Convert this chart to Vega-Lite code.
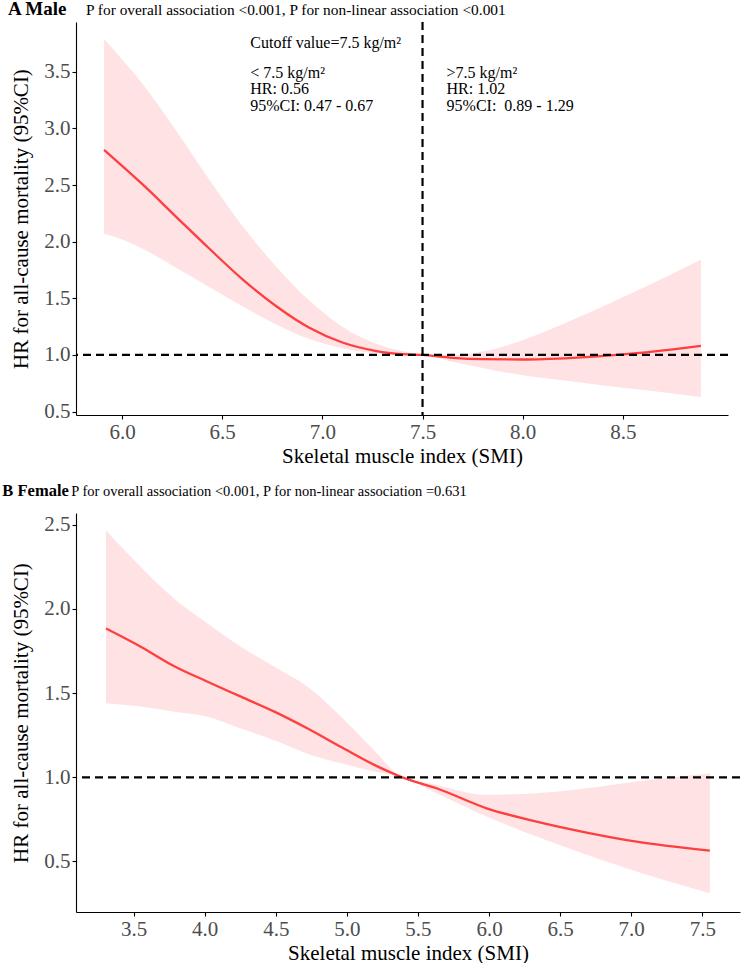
{
  "$schema": "https://vega.github.io/schema/vega-lite/v6.json",
  "background": "white",
  "padding": {"left": 2, "top": 0, "right": 0, "bottom": 0},
  "spacing": 16,
  "config": {
    "font": "Liberation Serif",
    "view": {"stroke": null},
    "axis": {"domainColor": "black", "domainWidth": 1.1, "tickColor": "black", "tickWidth": 1.1, "tickSize": 4, "labelFont": "Liberation Serif", "labelFontSize": 21, "labelColor": "#4D4D4D", "titleFont": "Liberation Serif", "titleFontSize": 21, "titleFontWeight": "normal", "titleColor": "black", "grid": false, "labelPadding": 2},
    "axisY": {"titlePadding": 12},
    "axisX": {"titlePadding": 3},
    "text": {"font": "Liberation Serif"}
  },
  "datasets": {
    "male": [
      {"smi": 5.91, "hr": 2.81, "lo": 2.07, "hi": 3.79},
      {"smi": 6.0, "hr": 2.67, "lo": 2.02, "hi": 3.61},
      {"smi": 6.1, "hr": 2.51, "lo": 1.94, "hi": 3.40},
      {"smi": 6.27, "hr": 2.22, "lo": 1.77, "hi": 2.98},
      {"smi": 6.435, "hr": 1.94, "lo": 1.60, "hi": 2.55},
      {"smi": 6.6, "hr": 1.67, "lo": 1.43, "hi": 2.14},
      {"smi": 6.77, "hr": 1.43, "lo": 1.27, "hi": 1.78},
      {"smi": 6.935, "hr": 1.24, "lo": 1.14, "hi": 1.48},
      {"smi": 7.1, "hr": 1.11, "lo": 1.06, "hi": 1.25},
      {"smi": 7.27, "hr": 1.035, "lo": 1.015, "hi": 1.10},
      {"smi": 7.4, "hr": 1.008, "lo": 1.002, "hi": 1.035},
      {"smi": 7.5, "hr": 1.0, "lo": 1.0, "hi": 1.0},
      {"smi": 7.65, "hr": 0.975, "lo": 0.94, "hi": 1.0},
      {"smi": 7.8, "hr": 0.963, "lo": 0.885, "hi": 1.03},
      {"smi": 8.0, "hr": 0.96, "lo": 0.82, "hi": 1.13},
      {"smi": 8.25, "hr": 0.975, "lo": 0.765, "hi": 1.31},
      {"smi": 8.5, "hr": 1.005, "lo": 0.71, "hi": 1.51},
      {"smi": 8.75, "hr": 1.05, "lo": 0.66, "hi": 1.72},
      {"smi": 8.89, "hr": 1.08, "lo": 0.63, "hi": 1.84}
    ],
    "female": [
      {"smi": 3.306, "hr": 1.884, "lo": 1.44, "hi": 2.468},
      {"smi": 3.55, "hr": 1.776, "lo": 1.42, "hi": 2.25},
      {"smi": 3.786, "hr": 1.66, "lo": 1.39, "hi": 2.06},
      {"smi": 4.02, "hr": 1.568, "lo": 1.36, "hi": 1.914},
      {"smi": 4.255, "hr": 1.479, "lo": 1.29, "hi": 1.776},
      {"smi": 4.49, "hr": 1.39, "lo": 1.22, "hi": 1.657},
      {"smi": 4.724, "hr": 1.29, "lo": 1.14, "hi": 1.538},
      {"smi": 4.96, "hr": 1.18, "lo": 1.083, "hi": 1.36},
      {"smi": 5.193, "hr": 1.074, "lo": 1.034, "hi": 1.16},
      {"smi": 5.39, "hr": 1.0, "lo": 1.0, "hi": 1.0},
      {"smi": 5.631, "hr": 0.935, "lo": 0.905, "hi": 0.955},
      {"smi": 5.983, "hr": 0.816, "lo": 0.767, "hi": 0.896},
      {"smi": 6.334, "hr": 0.737, "lo": 0.648, "hi": 0.905},
      {"smi": 6.686, "hr": 0.672, "lo": 0.54, "hi": 0.935},
      {"smi": 7.037, "hr": 0.618, "lo": 0.44, "hi": 0.975},
      {"smi": 7.553, "hr": 0.565, "lo": 0.312, "hi": 1.024}
    ],
    "one": [{"row": 1}]
  },
  "vconcat": [
    {
      "width": 652,
      "height": 393,
      "layer": [
        {"data": {"name": "male"}, "mark": {"type": "area", "color": "#FFE2E4", "opacity": 1, "interpolate": "monotone"},
         "encoding": {
           "x": {"field": "smi", "type": "quantitative", "title": "Skeletal muscle index (SMI)", "scale": {"domain": [5.77, 9.025], "nice": false, "zero": false}, "axis": {"values": [6.0, 6.5, 7.0, 7.5, 8.0, 8.5], "format": ".1f"}},
           "y": {"field": "lo", "type": "quantitative", "title": "HR for all-cause mortality (95%CI)", "scale": {"domain": [0.47, 3.94], "nice": false, "zero": false}, "axis": {"values": [0.5, 1.0, 1.5, 2.0, 2.5, 3.0, 3.5], "format": ".1f"}},
           "y2": {"field": "hi"}}},
        {"data": {"name": "male"}, "mark": {"type": "line", "color": "#FF3E3E", "strokeWidth": 2.3, "interpolate": "monotone"},
         "encoding": {
           "x": {"field": "smi", "type": "quantitative", "title": "Skeletal muscle index (SMI)"},
           "y": {"field": "hr", "type": "quantitative", "title": "HR for all-cause mortality (95%CI)"}}},
        {"data": {"name": "one"}, "mark": {"type": "rule", "color": "black", "strokeWidth": 2.2, "strokeDash": [8, 5]},
         "encoding": {"y": {"datum": 1.0, "type": "quantitative", "title": "HR for all-cause mortality (95%CI)"}}},
        {"data": {"name": "one"}, "mark": {"type": "rule", "color": "black", "strokeWidth": 2.2, "strokeDash": [8, 5]},
         "encoding": {"x": {"datum": 7.5, "type": "quantitative", "title": "Skeletal muscle index (SMI)"}}},
        {"data": {"name": "one"}, "mark": {"type": "text", "align": "left", "baseline": "alphabetic", "fontSize": 16, "color": "black"},
         "encoding": {"x": {"datum": 6.64, "type": "quantitative", "title": "Skeletal muscle index (SMI)"}, "y": {"datum": 3.707, "type": "quantitative", "title": "HR for all-cause mortality (95%CI)"}, "text": {"value": "Cutoff value=7.5 kg/m²"}}},
        {"data": {"name": "one"}, "mark": {"type": "text", "align": "left", "baseline": "alphabetic", "fontSize": 16, "lineHeight": 16.7, "color": "black"},
         "encoding": {"x": {"datum": 6.64, "type": "quantitative", "title": "Skeletal muscle index (SMI)"}, "y": {"datum": 3.449, "type": "quantitative", "title": "HR for all-cause mortality (95%CI)"}, "text": {"value": ["< 7.5 kg/m²", "HR: 0.56", "95%CI: 0.47 - 0.67"]}}},
        {"data": {"name": "one"}, "mark": {"type": "text", "align": "left", "baseline": "alphabetic", "fontSize": 16, "lineHeight": 16.7, "color": "black"},
         "encoding": {"x": {"datum": 7.62, "type": "quantitative", "title": "Skeletal muscle index (SMI)"}, "y": {"datum": 3.449, "type": "quantitative", "title": "HR for all-cause mortality (95%CI)"}, "text": {"value": [">7.5 kg/m²", "HR: 1.02", "95%CI:\u00a0 0.89 - 1.29"]}}},
        {"data": {"name": "one"}, "mark": {"type": "text", "align": "left", "baseline": "alphabetic", "fontSize": 15.4, "color": "black"},
         "encoding": {"x": {"datum": 5.82, "type": "quantitative", "title": "Skeletal muscle index (SMI)"}, "y": {"datum": 4.0, "type": "quantitative", "title": "HR for all-cause mortality (95%CI)"}, "text": {"value": "P for overall association <0.001, P for non-linear association <0.001"}}},
        {"data": {"name": "one"}, "mark": {"type": "text", "align": "left", "baseline": "alphabetic", "fontSize": 19, "fontWeight": "bold", "color": "black"},
         "encoding": {"x": {"datum": 5.43, "type": "quantitative", "title": "Skeletal muscle index (SMI)"}, "y": {"datum": 4.0, "type": "quantitative", "title": "HR for all-cause mortality (95%CI)"}, "text": {"value": "A Male"}}}
      ]
    },
    {
      "width": 664,
      "height": 399,
      "layer": [
        {"data": {"name": "female"}, "mark": {"type": "area", "color": "#FFE2E4", "opacity": 1, "interpolate": "monotone"},
         "encoding": {
           "x": {"field": "smi", "type": "quantitative", "title": "Skeletal muscle index (SMI)", "scale": {"domain": [3.095, 7.765], "nice": false, "zero": false}, "axis": {"values": [3.5, 4.0, 4.5, 5.0, 5.5, 6.0, 6.5, 7.0, 7.5], "format": ".1f"}},
           "y": {"field": "lo", "type": "quantitative", "title": "HR for all-cause mortality (95%CI)", "scale": {"domain": [0.2, 2.57], "nice": false, "zero": false}, "axis": {"values": [0.5, 1.0, 1.5, 2.0, 2.5], "format": ".1f"}},
           "y2": {"field": "hi"}}},
        {"data": {"name": "female"}, "mark": {"type": "line", "color": "#FF3E3E", "strokeWidth": 2.3, "interpolate": "monotone"},
         "encoding": {
           "x": {"field": "smi", "type": "quantitative", "title": "Skeletal muscle index (SMI)"},
           "y": {"field": "hr", "type": "quantitative", "title": "HR for all-cause mortality (95%CI)"}}},
        {"data": {"name": "one"}, "mark": {"type": "rule", "color": "black", "strokeWidth": 2.2, "strokeDash": [8, 5]},
         "encoding": {"y": {"datum": 1.0, "type": "quantitative", "title": "HR for all-cause mortality (95%CI)"}}},
        {"data": {"name": "one"}, "mark": {"type": "text", "align": "left", "baseline": "alphabetic", "fontSize": 14.5, "color": "black"},
         "encoding": {"x": {"datum": 3.062, "type": "quantitative", "title": "Skeletal muscle index (SMI)"}, "y": {"datum": 2.672, "type": "quantitative", "title": "HR for all-cause mortality (95%CI)"}, "text": {"value": "P for overall association <0.001, P for non-linear association =0.631"}}},
        {"data": {"name": "one"}, "mark": {"type": "text", "align": "left", "baseline": "alphabetic", "fontSize": 16.5, "fontWeight": "bold", "color": "black"},
         "encoding": {"x": {"datum": 2.577, "type": "quantitative", "title": "Skeletal muscle index (SMI)"}, "y": {"datum": 2.672, "type": "quantitative", "title": "HR for all-cause mortality (95%CI)"}, "text": {"value": "B Female"}}}
      ]
    }
  ]
}
